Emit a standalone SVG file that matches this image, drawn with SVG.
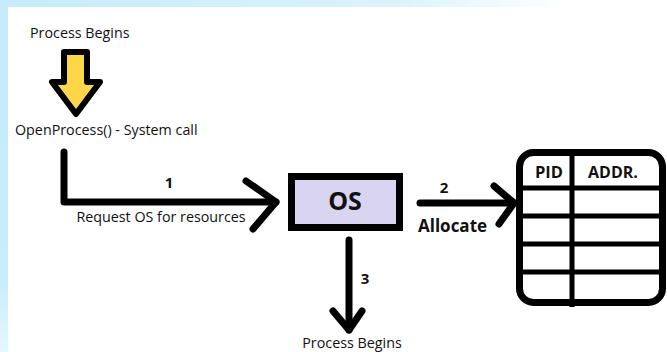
<svg xmlns="http://www.w3.org/2000/svg" width="667" height="352" viewBox="0 0 667 352">
<style>
.t{font-family:"Open Sans","Liberation Sans",sans-serif;font-size:14.3px;fill:#111}
.b{font-family:"Open Sans","Liberation Sans",sans-serif;font-weight:bold;fill:#111}
.ln{fill:none;stroke:#000;stroke-width:7;stroke-linecap:round;stroke-linejoin:round}
.grid{fill:none;stroke:#000;stroke-width:5}
</style>
<defs>
<linearGradient id="topg" x1="0" y1="0" x2="1" y2="0">
<stop offset="0" stop-color="#c4ecfa"/>
<stop offset="0.6" stop-color="#dcf3fc"/>
<stop offset="0.85" stop-color="#ffffff"/>
</linearGradient>
<linearGradient id="leftg" x1="0" y1="0" x2="0" y2="1">
<stop offset="0" stop-color="#c4ecfa"/>
<stop offset="0.8" stop-color="#c8edfb"/>
<stop offset="1" stop-color="#e6f7fd"/>
</linearGradient>
</defs>
<rect x="0" y="0" width="667" height="352" fill="#ffffff"/>
<rect x="0" y="0" width="667" height="7" fill="url(#topg)"/>
<rect x="0" y="0" width="8" height="352" fill="url(#leftg)"/>

<g id="start">
<text class="t" x="30" y="38">Process Begins</text>
<path d="M64,52 H87 V82 H100 L76,114 L52,82 H64 Z" fill="#fdd748" stroke="#000" stroke-width="6" stroke-linejoin="round"/>
</g>
<g id="syscall">
<text class="t" x="15" y="135">OpenProcess() - System call</text>
</g>
<g id="os">
<rect x="291.5" y="176.5" width="108" height="51" fill="#d9d5f1" stroke="#000" stroke-width="7"/>
<text class="b" x="345" y="210" font-size="25" text-anchor="middle">OS</text>
</g>
<g id="table">
<rect x="519.5" y="152.5" width="143" height="150" rx="14" fill="#fff" stroke="#000" stroke-width="7"/>
<line class="grid" x1="519" y1="188" x2="663" y2="188"/>
<line class="grid" x1="519" y1="216" x2="663" y2="216"/>
<line class="grid" x1="519" y1="244" x2="663" y2="244"/>
<line class="grid" x1="519" y1="272" x2="663" y2="272"/>
<line class="grid" x1="572" y1="151" x2="572" y2="307"/>
<text class="b" x="549" y="178" font-size="16.5" text-anchor="middle">PID</text>
<text class="b" x="613" y="178" font-size="16" text-anchor="middle">ADDR.</text>
</g>
<g id="process-begins-end">
<text class="t" x="352" y="348" text-anchor="middle">Process Begins</text>
</g>

<g id="connectors">
<path class="ln" d="M64,152 V202 H276"/>
<path class="ln" d="M246,181 L276,202 L253,229"/>
<text class="b" x="169" y="188" font-size="15" text-anchor="middle">1</text>
<text class="t" x="161" y="222" text-anchor="middle">Request OS for resources</text>

<path class="ln" d="M420,203 H514"/>
<path class="ln" d="M494,186 L514,203 L499,224"/>
<text class="b" x="444" y="193" font-size="15" text-anchor="middle">2</text>
<text class="b" x="418" y="232" font-size="17">Allocate</text>

<path class="ln" d="M349,240 V330"/>
<path class="ln" d="M333,311 L349,330 L362,311"/>
<text class="b" x="365" y="284" font-size="15" text-anchor="middle">3</text>
</g>
</svg>
